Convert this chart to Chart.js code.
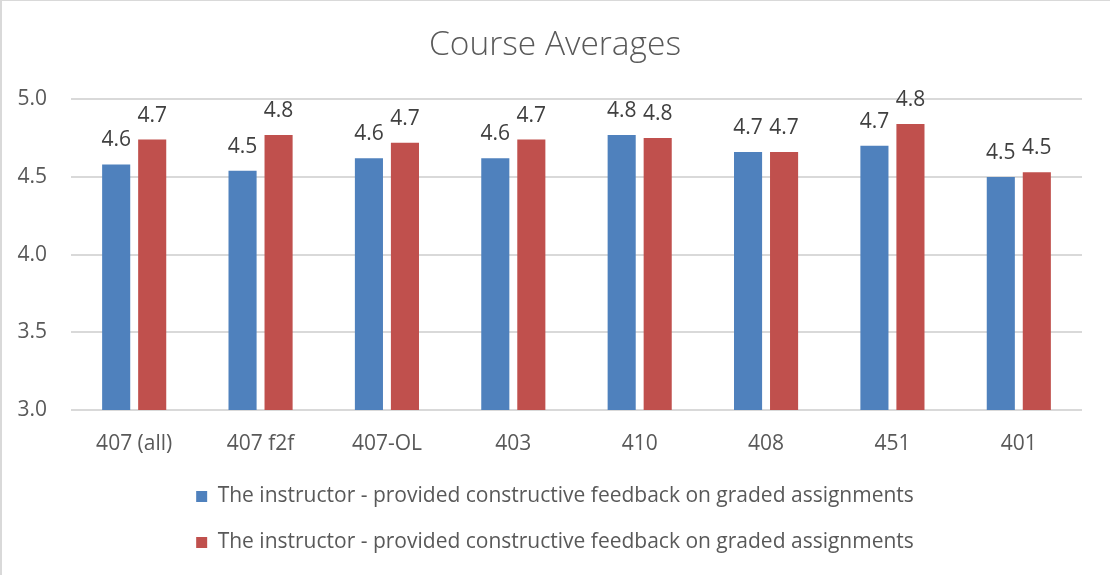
<!DOCTYPE html>
<html>
<head>
<meta charset="utf-8">
<script src="https://cdn.jsdelivr.net/npm/chart.js@4/dist/chart.umd.min.js"></script>
<style>
  html, body { margin: 0; padding: 0; background: #fff; }
  #wrap { width: 1110px; height: 575px; position: relative; }
</style>
</head>
<body>
<div id="wrap"><canvas id="chart" width="1110" height="575"></canvas></div>
<script>
// course codes along the x axis
const courses = ['407 (all)', '407 f2f', '407-OL', '403', '410', '408', '451', '401'];

// both series carry the same label in the original
const seriesLabel = 'The instructor - provided constructive feedback on graded assignments';

const firstSeries = [4.58, 4.54, 4.62, 4.62, 4.77, 4.66, 4.70, 4.50];
const secondSeries = [4.74, 4.77, 4.72, 4.74, 4.75, 4.66, 4.84, 4.53];

const yTicks = [3.0, 3.5, 4.0, 4.5, 5.0];

const FONT = "'Open Sans', 'DejaVu Sans', sans-serif";

// white background plus the thin grey frame (left and top only)
const frame = {
  id: 'frame',
  beforeDraw(chart) {
    const ctx = chart.ctx;
    ctx.save();
    ctx.fillStyle = '#ffffff';
    ctx.fillRect(0, 0, chart.width, chart.height);
    ctx.fillStyle = '#d9d9d9';
    ctx.fillRect(0, 0, 2, chart.height);
    ctx.fillRect(0, 0, chart.width, 1);
    ctx.restore();
  }
};

// value labels above every bar, one decimal
const barValues = {
  id: 'barValues',
  afterDatasetsDraw(chart) {
    const ctx = chart.ctx;
    ctx.save();
    ctx.font = '21px ' + FONT;
    ctx.fillStyle = '#404040';
    ctx.textAlign = 'center';
    ctx.textBaseline = 'alphabetic';
    chart.data.datasets.forEach((ds, i) => {
      chart.getDatasetMeta(i).data.forEach((bar, j) => {
        ctx.fillText(ds.data[j].toFixed(1), bar.x, bar.y - 18);
      });
    });
    ctx.restore();
  }
};

new Chart(document.getElementById('chart'), {
  type: 'bar',
  data: {
    labels: courses,
    datasets: [
      { label: seriesLabel, data: firstSeries, backgroundColor: '#4f81bd' },
      { label: seriesLabel, data: secondSeries, backgroundColor: '#c0504d' }
    ]
  },
  options: {
    responsive: false,
    animation: false,
    categoryPercentage: 0.57,
    barPercentage: 0.78,
    layout: { padding: { left: 0, right: 0, top: 0, bottom: 12 } },
    scales: {
      x: {
        grid: { display: false },
        border: { display: false },
        ticks: { color: '#595959', font: { family: FONT, size: 21 }, padding: 13, maxRotation: 0 },
        afterFit(scale) { scale.height = 51; }
      },
      y: {
        min: 3,
        max: 5,
        afterBuildTicks(scale) { scale.ticks = yTicks.map(v => ({ value: v })); },
        grid: { color: '#d9d9d9', lineWidth: 2, drawTicks: false },
        border: { display: false },
        ticks: {
          color: '#595959',
          font: { family: FONT, size: 21 },
          padding: 24,
          callback: v => Number(v).toFixed(1)
        },
        afterFit(scale) { scale.width = 71; }
      },
      // empty right-hand spacer so title and legend stay centred on the page
      spacer: {
        type: 'linear',
        position: 'right',
        grid: { display: false },
        border: { display: false },
        ticks: { display: false },
        afterFit(scale) { scale.width = 28; }
      }
    },
    plugins: {
      title: {
        display: true,
        text: 'Course Averages',
        color: '#595959',
        font: { family: FONT, size: 33.5, weight: '300' },
        padding: { top: 25, bottom: 34 }
      },
      legend: {
        position: 'bottom',
        labels: {
          color: '#595959',
          font: { family: FONT, size: 21 },
          boxWidth: 11,
          boxHeight: 11,
          padding: 25
        }
      },
      tooltip: { enabled: false }
    }
  },
  plugins: [frame, barValues]
});
</script>
</body>
</html>
